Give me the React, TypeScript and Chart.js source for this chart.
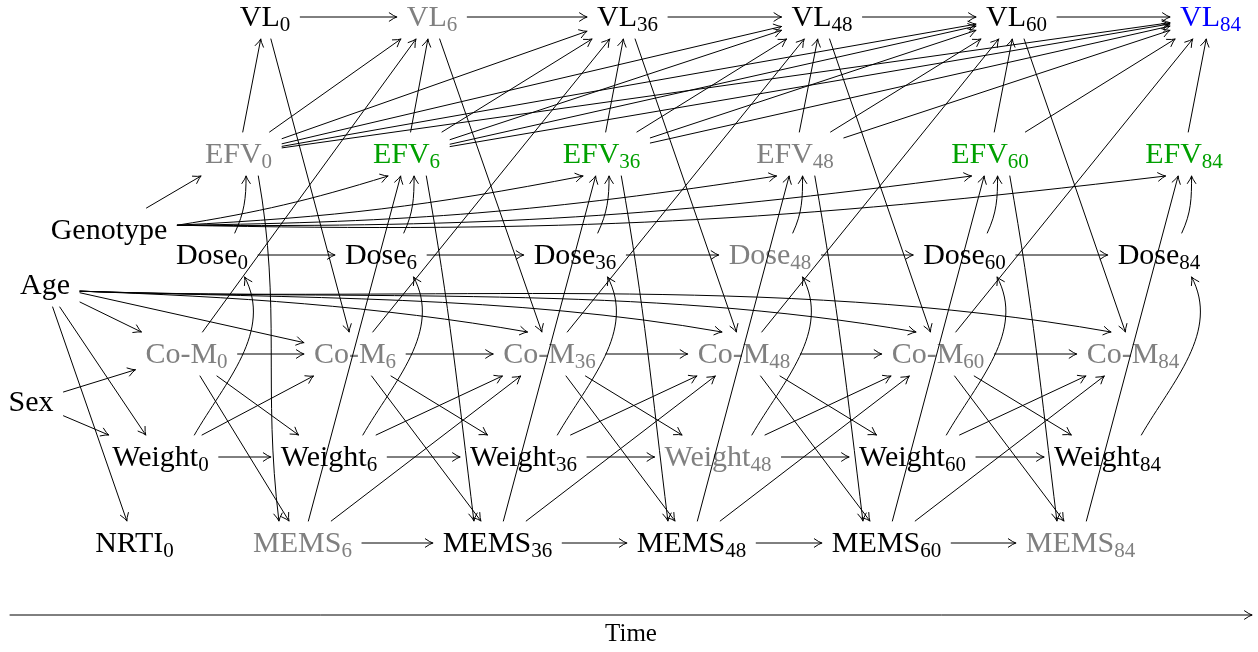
import React, { useEffect, useRef } from 'react';
import { Chart, registerables } from 'chart.js';

Chart.register(...registerables);

const CANVAS_W = 1258;
const CANVAS_H = 652;

// time points (subscripts)
const times = ['0', '6', '36', '48', '60', '84'];

// node column positions for each row (chart units)
const vlX = [265, 432, 627.5, 822, 1016.5, 1210.5];
const efvX = [238.5, 406.5, 601.5, 795, 990, 1184];
const doseX = [212, 381, 575, 770, 964.5, 1159];
const comX = [186.5, 355, 549.5, 744, 938, 1133];
const weightX = [160.5, 329, 523.5, 718, 912.5, 1107.5];
const memsX = [134.5, 302.5, 497.5, 691.5, 886.5, 1080.5];

// row keys and vertical levels
const rowKeys = ['VL', 'EFV', 'Dose', 'CoM', 'Weight', 'MEMS'];
const rowY = [17, 154, 255, 354, 457, 543];

// label colours per row
const vlColors = ['black', 'gray', 'black', 'black', 'black', 'blue'];
const efvColors = ['gray', 'green', 'green', 'gray', 'green', 'green'];
const doseColors = ['black', 'black', 'black', 'gray', 'black', 'black'];
const comColors = ['gray', 'gray', 'gray', 'gray', 'gray', 'gray'];
const weightColors = ['black', 'black', 'black', 'gray', 'black', 'black'];
const memsColors = ['black', 'gray', 'black', 'black', 'black', 'gray'];

const vlLabels = ['VL', 'VL', 'VL', 'VL', 'VL', 'VL'];
const efvLabels = ['EFV', 'EFV', 'EFV', 'EFV', 'EFV', 'EFV'];
const doseLabels = ['Dose', 'Dose', 'Dose', 'Dose', 'Dose', 'Dose'];
const comLabels = ['Co-M', 'Co-M', 'Co-M', 'Co-M', 'Co-M', 'Co-M'];
const weightLabels = ['Weight', 'Weight', 'Weight', 'Weight', 'Weight', 'Weight'];
const memsLabels = ['NRTI', 'MEMS', 'MEMS', 'MEMS', 'MEMS', 'MEMS'];

// baseline covariates
const covNames = ['Genotype', 'Age', 'Sex'];
const covX = [109, 45, 31];
const covY = [230, 285, 402];

// time axis
const timeAxisLabel = 'Time';
const timeAxisFrom = 10;
const timeAxisTo = 1252;
const timeAxisY = 615;
const timeLabelY = 633;

const palette: Record<string, string> = {
  black: '#000000',
  gray: '#808080',
  green: '#00a000',
  blue: '#0000ff',
};

type NodeDef = { id: string; main: string; sub: string; x: number; y: number; color: string };
type EdgeDef = { f: string; t: string; fa?: number; ta?: number; out?: number; inn?: number; bend?: number; loose?: number };

function buildNodes(): NodeDef[] {
  const rows = [
    { xs: vlX, cs: vlColors, ls: vlLabels },
    { xs: efvX, cs: efvColors, ls: efvLabels },
    { xs: doseX, cs: doseColors, ls: doseLabels },
    { xs: comX, cs: comColors, ls: comLabels },
    { xs: weightX, cs: weightColors, ls: weightLabels },
    { xs: memsX, cs: memsColors, ls: memsLabels },
  ];
  const nodes: NodeDef[] = [];
  rows.forEach((r, ri) => {
    times.forEach((t, i) => {
      nodes.push({ id: rowKeys[ri] + i, main: r.ls[i], sub: t, x: r.xs[i], y: rowY[ri], color: r.cs[i] });
    });
  });
  covNames.forEach((n, i) => {
    nodes.push({ id: n, main: n, sub: '', x: covX[i], y: covY[i], color: 'black' });
  });
  return nodes;
}

function buildEdges(): EdgeDef[] {
  const e: EdgeDef[] = [];
  const n = times.length;
  for (let i = 0; i < n - 1; i++) {
    e.push({ f: 'VL' + i, t: 'VL' + (i + 1) });
    e.push({ f: 'Dose' + i, t: 'Dose' + (i + 1) });
    e.push({ f: 'CoM' + i, t: 'CoM' + (i + 1) });
    e.push({ f: 'Weight' + i, t: 'Weight' + (i + 1) });
    e.push({ f: 'CoM' + i, t: 'VL' + (i + 1) });
    e.push({ f: 'VL' + i, t: 'CoM' + (i + 1) });
    e.push({ f: 'Weight' + i, t: 'CoM' + (i + 1) });
    e.push({ f: 'CoM' + i, t: 'Weight' + (i + 1) });
    e.push({ f: 'CoM' + i, t: 'MEMS' + (i + 1) });
    e.push({ f: 'EFV' + i, t: 'MEMS' + (i + 1), fa: -48, ta: 137, out: -80, inn: 97 });
  }
  for (let i = 1; i < n - 1; i++) {
    e.push({ f: 'MEMS' + i, t: 'MEMS' + (i + 1) });
    e.push({ f: 'MEMS' + i, t: 'CoM' + (i + 1) });
  }
  for (let i = 1; i < n; i++) {
    e.push({ f: 'MEMS' + i, t: 'EFV' + i });
  }
  for (let i = 0; i < n; i++) {
    for (let j = i; j < n; j++) e.push({ f: 'EFV' + i, t: 'VL' + j });
    e.push({ f: 'Dose' + i, t: 'EFV' + i, fa: 44, ta: -71, out: 65, inn: -90 });
    e.push({ f: 'Weight' + i, t: 'Dose' + i, fa: 33, ta: -34, out: 60, inn: -62, loose: 0.95 });
    if (i === 0) e.push({ f: 'Genotype', t: 'EFV0' });
    else e.push({ f: 'Genotype', t: 'EFV' + i, fa: 4, ta: -130, bend: -4 });
    if (i < 2) e.push({ f: 'Age', t: 'CoM' + i });
    else e.push({ f: 'Age', t: 'CoM' + i, fa: -10, ta: 135, out: -2, inn: 170, loose: 0.85 });
  }
  e.push({ f: 'Sex', t: 'CoM0' });
  e.push({ f: 'Sex', t: 'Weight0' });
  e.push({ f: 'Age', t: 'Weight0' });
  e.push({ f: 'Age', t: 'MEMS0' });
  return e;
}

const MAIN_FONT = '30px "Liberation Serif"';
const SUB_FONT = '21px "Liberation Serif"';
const LABEL_FONT = '25px "Liberation Serif"';
const HALF_H = 22;
const PAD = 10;

function drawArrowHead(ctx: CanvasRenderingContext2D, x: number, y: number, dx: number, dy: number) {
  const len = Math.hypot(dx, dy) || 1;
  const ux = dx / len, uy = dy / len;
  const nx = -uy, ny = ux;
  const L = 7.5, Wd = 4.2;
  ctx.beginPath();
  ctx.moveTo(x - L * ux + Wd * nx, y - L * uy + Wd * ny);
  ctx.quadraticCurveTo(x - 2.5 * ux + 0.7 * nx, y - 2.5 * uy + 0.7 * ny, x, y);
  ctx.quadraticCurveTo(x - 2.5 * ux - 0.7 * nx, y - 2.5 * uy - 0.7 * ny, x - L * ux - Wd * nx, y - L * uy - Wd * ny);
  ctx.stroke();
}

type Box = { cx: number; cy: number; hw: number; hh: number };

function borderDir(b: Box, dx: number, dy: number) {
  const tx = Math.abs(dx) > 1e-9 ? b.hw / Math.abs(dx) : Infinity;
  const ty = Math.abs(dy) > 1e-9 ? b.hh / Math.abs(dy) : Infinity;
  const t = Math.min(tx, ty);
  return { x: b.cx + dx * t, y: b.cy + dy * t };
}
function borderAngle(b: Box, deg: number) {
  const r = (deg * Math.PI) / 180;
  return borderDir(b, Math.cos(r), -Math.sin(r));
}

const diagramPlugin = {
  id: 'dagDiagram',
  afterDraw(chart: any) {
    const ctx: CanvasRenderingContext2D = chart.ctx;
    const xs = chart.scales.x;
    const ys = chart.scales.y;
    const nodes: NodeDef[] = chart.$nodes;
    const edges: EdgeDef[] = chart.$edges;
    const boxes: Record<string, Box> = {};
    ctx.save();
    ctx.textBaseline = 'alphabetic';
    ctx.textAlign = 'left';
    // labels
    nodes.forEach((nd) => {
      const cx = xs.getPixelForValue(nd.x);
      const cy = ys.getPixelForValue(nd.y);
      ctx.font = MAIN_FONT;
      const mw = ctx.measureText(nd.main).width;
      ctx.font = SUB_FONT;
      const sw = nd.sub ? ctx.measureText(nd.sub).width : 0;
      const tw = mw + sw;
      const x0 = cx - tw / 2;
      const base = cy + 9;
      ctx.fillStyle = palette[nd.color];
      ctx.font = MAIN_FONT;
      ctx.fillText(nd.main, x0, base);
      if (nd.sub) {
        ctx.font = SUB_FONT;
        ctx.fillText(nd.sub, x0 + mw, base + 4.5);
      }
      boxes[nd.id] = { cx, cy, hw: tw / 2 + PAD, hh: HALF_H };
    });
    // edges
    ctx.strokeStyle = '#000';
    ctx.lineWidth = 1.0;
    ctx.lineCap = 'round';
    edges.forEach((ed) => {
      const a = boxes[ed.f];
      const b = boxes[ed.t];
      if (!a || !b) return;
      const curved = ed.out !== undefined || ed.bend !== undefined;
      if (!curved) {
        const dx = b.cx - a.cx, dy = b.cy - a.cy;
        const s = borderDir(a, dx, dy);
        const t = borderDir(b, -dx, -dy);
        ctx.beginPath();
        ctx.moveTo(s.x, s.y);
        ctx.lineTo(t.x, t.y);
        ctx.stroke();
        drawArrowHead(ctx, t.x, t.y, t.x - s.x, t.y - s.y);
      } else {
        let s, t, out: number, inn: number;
        if (ed.bend !== undefined) {
          s = borderAngle(a, ed.fa as number);
          t = borderAngle(b, ed.ta as number);
          const chord = (Math.atan2(-(t.y - s.y), t.x - s.x) * 180) / Math.PI;
          out = chord + ed.bend;
          inn = chord + 180 - ed.bend;
        } else {
          out = ed.out as number;
          inn = ed.inn as number;
          s = borderAngle(a, ed.fa !== undefined ? ed.fa : out);
          t = borderAngle(b, ed.ta !== undefined ? ed.ta : inn);
        }
        const d = Math.hypot(t.x - s.x, t.y - s.y);
        const L = 0.3915 * d * (ed.loose || 1);
        const ro = (out * Math.PI) / 180, ri = (inn * Math.PI) / 180;
        const c1 = { x: s.x + L * Math.cos(ro), y: s.y - L * Math.sin(ro) };
        const c2 = { x: t.x + L * Math.cos(ri), y: t.y - L * Math.sin(ri) };
        ctx.beginPath();
        ctx.moveTo(s.x, s.y);
        ctx.bezierCurveTo(c1.x, c1.y, c2.x, c2.y, t.x, t.y);
        ctx.stroke();
        drawArrowHead(ctx, t.x, t.y, t.x - c2.x, t.y - c2.y);
      }
    });
    // time axis
    const ax0 = xs.getPixelForValue(timeAxisFrom);
    const ax1 = xs.getPixelForValue(timeAxisTo);
    const ay = ys.getPixelForValue(timeAxisY);
    ctx.beginPath();
    ctx.moveTo(ax0, ay);
    ctx.lineTo(ax1, ay);
    ctx.stroke();
    drawArrowHead(ctx, ax1, ay, 1, 0);
    ctx.fillStyle = '#000';
    ctx.font = LABEL_FONT;
    ctx.textAlign = 'center';
    ctx.fillText(timeAxisLabel, xs.getPixelForValue((timeAxisFrom + timeAxisTo) / 2), ys.getPixelForValue(timeLabelY) + 8);
    ctx.restore();
  },
};

export default function App() {
  const ref = useRef<HTMLCanvasElement | null>(null);
  useEffect(() => {
    if (!ref.current) return;
    const nodes = buildNodes();
    const edges = buildEdges();
    const chart: any = new Chart(ref.current, {
      type: 'scatter',
      data: {
        datasets: [
          {
            data: nodes.map((n) => ({ x: n.x, y: n.y })),
            pointRadius: 0,
            pointHoverRadius: 0,
            showLine: false,
          },
        ],
      },
      options: {
        responsive: false,
        animation: false,
        layout: { padding: 0 },
        scales: {
          x: { type: 'linear', min: 0, max: CANVAS_W, display: false },
          y: { type: 'linear', min: 0, max: CANVAS_H, reverse: true, display: false },
        },
        plugins: { legend: { display: false }, tooltip: { enabled: false } },
        events: [],
      },
      plugins: [
        {
          id: 'attachData',
          beforeInit(c: any) {
            c.$nodes = nodes;
            c.$edges = edges;
          },
        },
        diagramPlugin,
      ],
    } as any);
    return () => chart.destroy();
  }, []);
  return (
    <div style={{ position: 'fixed', left: 0, top: 0, width: CANVAS_W, height: CANVAS_H, background: '#fff' }}>
      <canvas ref={ref} width={CANVAS_W} height={CANVAS_H} style={{ display: 'block' }} />
    </div>
  );
}
